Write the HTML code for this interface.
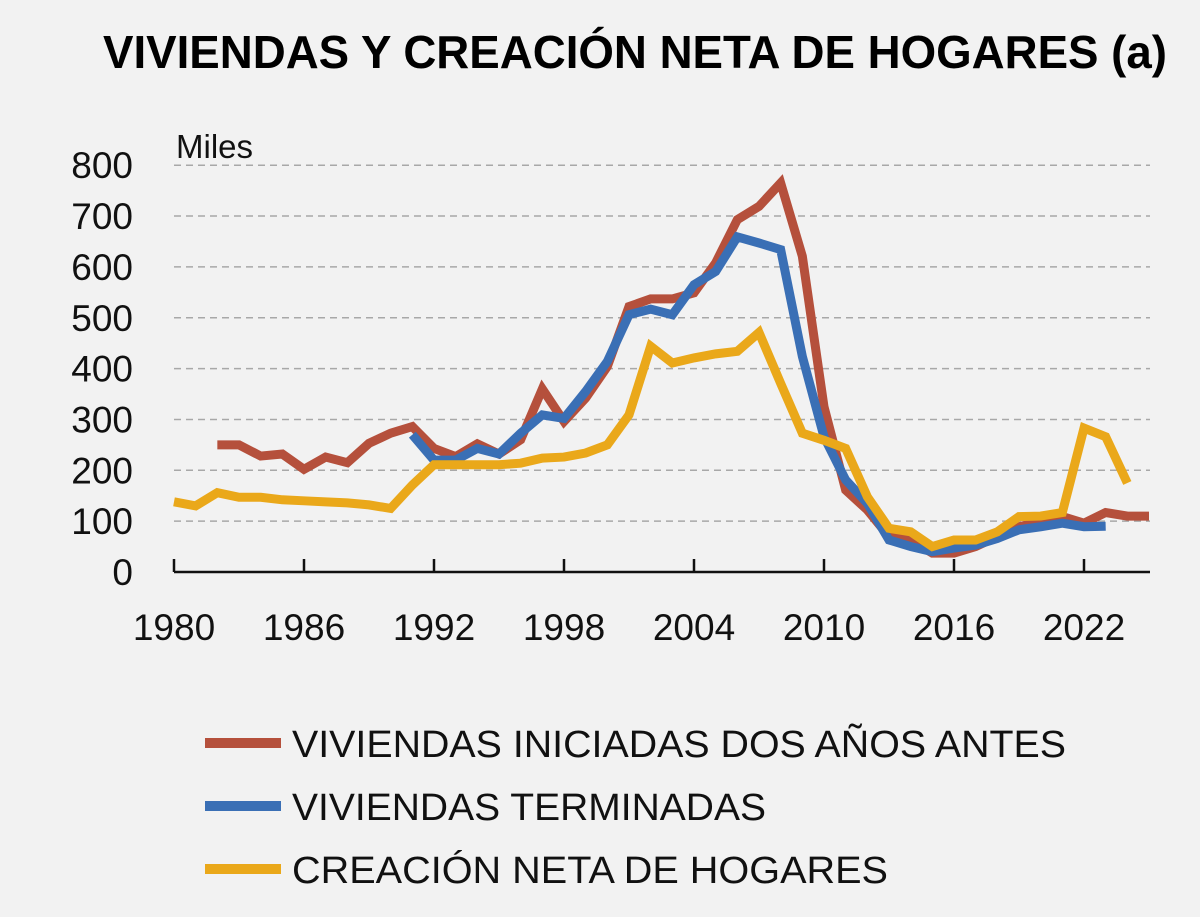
<!DOCTYPE html>
<html><head><meta charset="utf-8"><style>
html,body{margin:0;padding:0;background:#f2f2f2;}
svg{display:block;font-family:"Liberation Sans",sans-serif;}
</style></head><body>
<svg id="chart" width="1200" height="917" viewBox="0 0 1200 917">
<rect width="1200" height="917" fill="#f2f2f2"/>
<text x="103" y="68" font-size="46" font-weight="bold" textLength="1064" lengthAdjust="spacingAndGlyphs" fill="#000">VIVIENDAS Y CREACIÓN NETA DE HOGARES (a)</text>
<text x="176" y="158" font-size="33" fill="#111">Miles</text>
<g id="grid"></g><g id="axes"></g><g id="series"></g>
<g>
<g><line x1="205" y1="743" x2="281" y2="743" stroke="#b5503c" stroke-width="10"/><text x="292" y="757" font-size="38" fill="#111" textLength="774" lengthAdjust="spacingAndGlyphs">VIVIENDAS INICIADAS DOS AÑOS ANTES</text></g>
<g><line x1="205" y1="806" x2="281" y2="806" stroke="#3a6fb5" stroke-width="10"/><text x="292" y="820" font-size="38" fill="#111" textLength="474" lengthAdjust="spacingAndGlyphs">VIVIENDAS TERMINADAS</text></g>
<g><line x1="205" y1="869" x2="281" y2="869" stroke="#eaa81a" stroke-width="10"/><text x="292" y="883" font-size="38" fill="#111" textLength="596" lengthAdjust="spacingAndGlyphs">CREACIÓN NETA DE HOGARES</text></g>
</g>
</svg>
<script>
const yTicks=[0,100,200,300,400,500,600,700,800];
const xTicks=[1980,1986,1992,1998,2004,2010,2016,2022];
const iniciadasYears=[1982,1983,1984,1985,1986,1987,1988,1989,1990,1991,1992,1993,1994,1995,1996,1997,1998,1999,2000,2001,2002,2003,2004,2005,2006,2007,2008,2009,2010,2011,2012,2013,2014,2015,2016,2017,2018,2019,2020,2021,2022,2023,2024,2025];
const iniciadas=[250,250,228,232,202,226,215,253,273,286,243,227,252,232,260,360,296,342,404,522,537,537,549,608,693,719,765,621,325,161,122,70,63,37,37,50,70,89,99,109,96,117,110,110];
const terminadasYears=[1991,1992,1993,1994,1995,1996,1997,1998,1999,2000,2001,2002,2003,2004,2005,2006,2007,2008,2009,2010,2011,2012,2013,2014,2015,2016,2017,2018,2019,2020,2021,2022,2023];
const terminadas=[270,220,220,243,232,273,309,302,355,414,506,517,506,565,591,659,647,634,424,266,181,135,63,50,40,47,53,66,83,89,96,89,90];
const hogaresYears=[1980,1981,1982,1983,1984,1985,1986,1987,1988,1989,1990,1991,1992,1993,1994,1995,1996,1997,1998,1999,2000,2001,2002,2003,2004,2005,2006,2007,2008,2009,2010,2011,2012,2013,2014,2015,2016,2017,2018,2019,2020,2021,2022,2023,2024];
const hogares=[138,130,156,147,147,142,140,138,136,132,125,171,211,211,211,211,214,224,226,234,250,309,444,411,421,429,434,471,371,273,259,243,148,86,79,50,63,63,79,109,110,117,283,266,175];

const NS="http://www.w3.org/2000/svg";
const xS=y=>174+(y-1980)*(130/6);
const yS=v=>572-v*0.5085;
function mk(t,a,p){const e=document.createElementNS(NS,t);for(const k in a)e.setAttribute(k,a[k]);p.appendChild(e);return e;}
const grid=document.getElementById('grid'),axes=document.getElementById('axes'),series=document.getElementById('series');
yTicks.forEach(v=>{
  if(v>0){const l=mk('line',{x1:174,x2:1150,y1:yS(v),y2:yS(v),stroke:'#a8a8a8','stroke-width':1.5,'stroke-dasharray':'7,5'},grid);
  
  }
  const t=mk('text',{x:133,y:yS(v)+13,'font-size':37,'text-anchor':'end',fill:'#111'},axes);t.textContent=v;
  
  
});
const ax=mk('line',{x1:174,x2:1150,y1:572,y2:572,stroke:'#111','stroke-width':2.5},axes);


xTicks.forEach(y=>{
  const tk=mk('line',{x1:xS(y),x2:xS(y),y1:559,y2:572,stroke:'#111','stroke-width':2.5},axes);
  
  
  const t=mk('text',{x:xS(y),y:640,'font-size':37,'text-anchor':'middle',fill:'#111'},axes);t.textContent=y;
  
  
});
function line(xs,vs,c,name){
  const p=mk('polyline',{points:xs.map((y,i)=>Math.min(xS(y),1150)+','+yS(vs[i])).join(' '),fill:'none',stroke:c,'stroke-width':9,'stroke-linejoin':'miter','stroke-miterlimit':3},series);
  
  
}
line(iniciadasYears,iniciadas,'#b5503c','series-iniciadas');
line(terminadasYears,terminadas,'#3a6fb5','series-terminadas');
line(hogaresYears,hogares,'#eaa81a','series-hogares');
</script>
</body></html>
